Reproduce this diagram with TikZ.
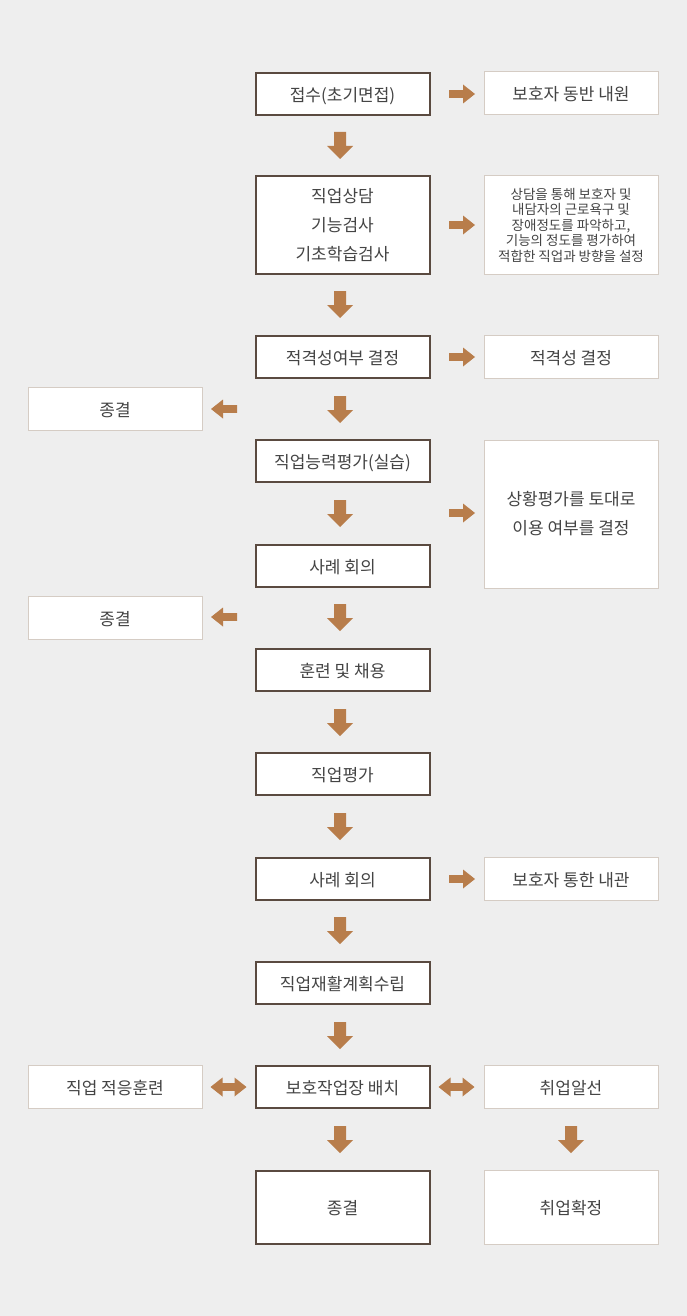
\documentclass[tikz,border=0pt]{standalone}
\usepackage{fontspec}
\setmainfont{Noto Sans CJK KR}
\usetikzlibrary{calc}

\definecolor{bgc}{HTML}{EEEEEE}
\definecolor{mainline}{HTML}{5A4A40}
\definecolor{sideline}{HTML}{D5CCC4}
\definecolor{arrowc}{HTML}{B87D4B}
\definecolor{txtc}{HTML}{444444}

\begin{document}
\begin{tikzpicture}[
    x=1pt, y=-1pt,
    font=\fontsize{17}{29}\selectfont,
    mainbox/.style={
        rectangle, draw=mainline, line width=2pt, fill=white,
        minimum width=174pt, minimum height=42pt,
        align=center, text=txtc, inner sep=0pt
    },
    sidebox/.style={
        rectangle, draw=sideline, line width=1pt, fill=white,
        minimum width=174pt, minimum height=43pt,
        align=center, text=txtc, inner sep=0pt
    },
    oneline/.style={text height=17pt, text depth=2pt},
    smalltxt/.style={font=\fontsize{13.5}{15.5}\selectfont},
    pics/dnarr/.style={code={
        \fill[arrowc] (-6,0) -- (6,0) -- (6,14) -- (13,14) -- (0,27)
            -- (-13,14) -- (-6,14) -- cycle;}},
    pics/rtarr/.style={code={
        \fill[arrowc] (0,-3.8) -- (14,-3.8) -- (14,-9.5) -- (26,0)
            -- (14,9.5) -- (14,3.8) -- (0,3.8) -- cycle;}},
    pics/ltarr/.style={code={
        \fill[arrowc] (0,-3.8) -- (-14,-3.8) -- (-14,-9.5) -- (-26,0)
            -- (-14,9.5) -- (-14,3.8) -- (0,3.8) -- cycle;}},
    pics/bothArr/.style={code={
        \fill[arrowc] (-18,0) -- (-6,-9.5) -- (-6,-3.8) -- (6,-3.8) -- (6,-9.5)
            -- (18,0) -- (6,9.5) -- (6,3.8) -- (-6,3.8) -- (-6,9.5) -- cycle;}}
]

\fill[bgc] (0,0) rectangle (687,1316);
\useasboundingbox (0,0) rectangle (687,1316);

% centre column
\node (intake)  [mainbox, oneline] at (342.5, 94)  {접수(초기면접)};
\node (consult) [mainbox, minimum height=97pt] at (342.5, 225)
    {직업상담\\기능검사\\기초학습검사};
\node (elig)    [mainbox, oneline] at (342.5, 357)  {적격성여부 결정};
\node (abil)    [mainbox, oneline] at (342.5, 461)  {직업능력평가(실습)};
\node (caseA)   [mainbox, oneline] at (342.5, 565.5){사례 회의};
\node (train)   [mainbox, oneline] at (342.5, 670)  {훈련 및 채용};
\node (jobeval) [mainbox, oneline] at (342.5, 774)  {직업평가};
\node (caseB)   [mainbox, oneline] at (342.5, 879)  {사례 회의};
\node (plan)    [mainbox, oneline] at (342.5, 983)  {직업재활계획수립};
\node (place)   [mainbox, oneline] at (342.5, 1087) {보호작업장 배치};
\node (endC)    [mainbox, oneline, minimum height=73pt] at (342.5, 1207) {종결};

% right column
\node (guard)   [sidebox, oneline] at (571, 93.5)  {보호자 동반 내원};
\node (note)    [sidebox, minimum height=98pt, smalltxt] at (571, 225)
    {상담을 통해 보호자 및\\내담자의 근로욕구 및\\장애정도를 파악하고,\\기능의 정도를 평가하여\\적합한 직업과 방향을 설정};
\node (eligR)   [sidebox, oneline] at (571, 356.5) {적격성 결정};
\node (decide)  [sidebox, minimum height=148pt] at (571, 514)
    {상황평가를 토대로\\이용 여부를 결정};
\node (visit)   [sidebox, oneline] at (571, 878.5) {보호자 통한 내관};
\node (refer)   [sidebox, oneline] at (571, 1087)  {취업알선};
\node (hired)   [sidebox, oneline, minimum height=74pt] at (571, 1207) {취업확정};

% left column
\node (endA)    [sidebox, oneline] at (115, 408.5) {종결};
\node (endB)    [sidebox, oneline] at (115, 617.5) {종결};
\node (adapt)   [sidebox, oneline] at (115, 1087)  {직업 적응훈련};

% down arrows
\pic at (340, 132)  {dnarr};
\pic at (340, 291)  {dnarr};
\pic at (340, 396)  {dnarr};
\pic at (340, 500)  {dnarr};
\pic at (340, 604)  {dnarr};
\pic at (340, 709)  {dnarr};
\pic at (340, 813)  {dnarr};
\pic at (340, 917)  {dnarr};
\pic at (340, 1022) {dnarr};
\pic at (340, 1126) {dnarr};
\pic at (571, 1126) {dnarr};

% side arrows
\pic at (449, 94)  {rtarr};
\pic at (449, 225) {rtarr};
\pic at (449, 357) {rtarr};
\pic at (449, 513) {rtarr};
\pic at (449, 879) {rtarr};
\pic at (237, 409) {ltarr};
\pic at (237, 617) {ltarr};
\pic at (228.5, 1087) {bothArr};
\pic at (456.5, 1087) {bothArr};

\end{tikzpicture}
\end{document}
